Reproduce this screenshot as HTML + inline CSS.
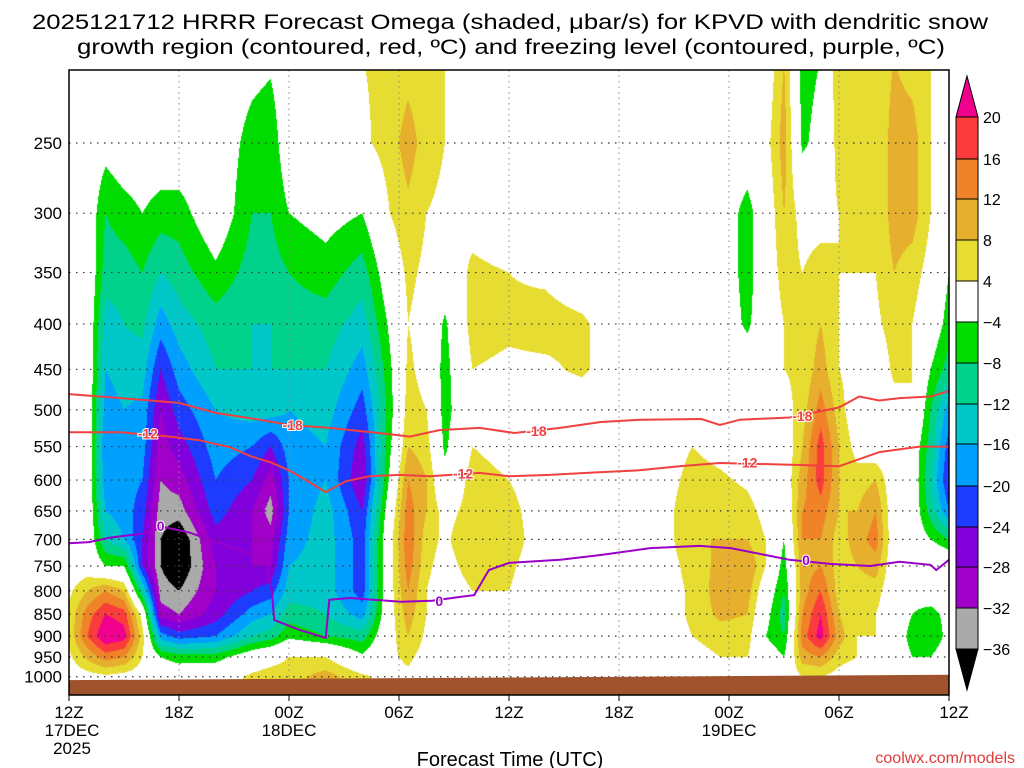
<!DOCTYPE html>
<html><head><meta charset="utf-8"><style>
html,body{margin:0;padding:0;background:#fff;}
#wrap{position:relative;width:1024px;height:768px;overflow:hidden;font-family:"Liberation Sans",sans-serif;}
#field{position:absolute;left:69px;top:70px;}
#ov{position:absolute;left:0;top:0;}
</style></head><body>
<div id="wrap">
<canvas id="field" width="880" height="625"></canvas>
<svg id="ov" width="1024" height="768" xmlns="http://www.w3.org/2000/svg">
<text x="510" y="29" font-size="21" text-anchor="middle" textLength="956" lengthAdjust="spacingAndGlyphs">2025121712 HRRR Forecast Omega (shaded, μbar/s) for KPVD with dendritic snow</text>
<text x="511" y="54" font-size="21" text-anchor="middle" textLength="868" lengthAdjust="spacingAndGlyphs">growth region (contoured, red, ºC) and freezing level (contoured, purple, ºC)</text>
<g id="grid"></g>
<g id="ground"></g>
<g id="lines"></g>
<rect x="69" y="70" width="880" height="625" fill="none" stroke="#000" stroke-width="1.5"/>
<g id="yax"></g>
<g id="xax"></g>
<text x="510" y="766" font-size="20" text-anchor="middle">Forecast Time (UTC)</text>
<text x="1015" y="763" font-size="16" fill="#e03a3a" text-anchor="end">coolwx.com/models</text>
<g id="cbar"></g>
</svg>
</div>
<script>
const levels=[200,250,300,350,400,450,500,550,600,650,700,750,800,850,900,950,1000];
const times=[0,1,2,3,4,5,6,8,10,11,12,14,16,17.5,18.5,19.5,20.5,22,24,26,28,30,32,34,35.5,37,38,39,40,41,42,43,44,45,46,47,48];
const omegaByTime=[
[0,0,0,0,0,0,0,0,0,0,0,0,3,5,5,3,1],
[0,0,0,1,1,1,1,1,1,1,1,1,8,14,16,9,2],
[0,-2,-8,-10,-14,-16,-18,-20,-19,-16,-12,-4,12,20,24,14,3],
[0,0,-6,-10,-12,-14,-16,-17,-18,-18,-16,-4,8,18,22,12,2],
[2,0,-4,-8,-11,-14,-17,-18,-20,-22,-24,-24,-12,2,6,4,1],
[3,0,-6,-12,-18,-24,-28,-30,-32,-34,-36,-36,-34,-30,-18,-4,0],
[2,0,-6,-10,-14,-18,-22,-26,-30,-34,-40,-40,-36,-32,-22,-6,0],
[0,0,0,-5,-10,-12,-16,-18,-20,-22,-26,-28,-28,-26,-20,-6,1],
[-2,-6,-8,-10,-12,-12,-14,-20,-24,-28,-28,-28,-24,-18,-12,0,5],
[-3,-7,-8,-10,-12,-12,-14,-24,-30,-34,-30,-28,-22,-16,-10,2,6],
[0,0,-4,-8,-10,-12,-16,-18,-20,-20,-18,-16,-14,-10,-5,4,6],
[0,0,-2,-6,-10,-12,-14,-16,-16,-14,-14,-14,-14,-12,-8,4,10],
[4,3,-4,-10,-14,-18,-22,-26,-28,-24,-22,-22,-22,-18,-10,-3,5],
[5,6,4,0,-3,-5,-6,-5,-3,0,2,2,2,2,2,3,2],
[6,10,7,5,4,5,6,8,12,14,15,14,12,10,8,5,3],
[5,6,4,3,2,2,4,6,8,8,6,5,4,4,3,2,1],
[4,4,3,0,-5,-6,-6,-5,-2,2,3,2,1,0,0,0,0],
[4,0,2,5,6,4,2,4,6,6,8,6,4,2,0,0,0],
[0,0,0,4,5,3,0,2,4,6,7,5,4,3,0,0,0],
[0,0,0,3,6,3,0,0,0,0,0,0,0,0,0,0,0],
[0,0,0,0,5,5,0,0,0,0,0,0,0,0,0,0,0],
[0,0,0,0,0,0,0,0,0,0,0,0,0,0,0,0,0],
[0,0,0,0,0,0,0,0,0,0,0,0,0,0,0,0,0],
[0,0,0,0,0,0,0,4,6,8,8,6,5,5,4,2,0],
[0,0,0,0,0,0,0,2,5,7,8,9,10,9,6,4,0],
[0,0,-6,-6,-5,0,0,0,3,6,8,12,10,8,6,4,0],
[0,2,0,0,0,0,0,0,0,2,4,4,0,-2,-4,0,0],
[8,10,8,6,4,4,2,0,0,-2,-4,-6,-8,-10,-8,-4,0],
[-6,-5,2,4,5,5,6,8,10,12,12,10,10,12,14,10,4],
[-4,-2,2,6,8,10,14,18,18,14,12,12,16,20,22,12,4],
[8,6,4,4,4,4,6,8,8,8,6,6,6,8,10,6,2],
[8,5,4,4,2,2,0,2,6,8,10,8,6,4,4,4,0],
[5,4,4,4,3,0,0,0,8,12,14,10,6,4,4,3,0],
[8,10,10,8,6,5,2,0,0,0,0,0,0,0,0,0,0],
[6,10,10,6,4,4,4,0,0,0,0,0,-2,-4,-6,-4,0],
[4,4,4,2,0,-4,-8,-10,-12,-10,-4,4,0,-6,-8,-4,0],
[0,0,0,-4,-6,-10,-18,-22,-24,-20,-8,2,0,-2,-2,0,0]
];
const isoM18=[[0,480],[2.8,485],[6,491],[8,504],[10.4,513],[12,520],[14.2,524],[16.9,531],[18.6,536],[20.2,527],[22.4,524],[24.3,531],[26.8,524],[29,516],[31.2,513],[34.5,512],[35.5,520],[36.6,513],[39.3,510],[42,497],[43.1,483],[44.2,488],[45.3,485],[47,483],[48,476]];
const isoM12=[[0,530],[2.8,530],[5.5,536],[7.1,541],[8.8,551],[9.9,564],[11,573],[12,585],[13.1,603],[14,619],[15.1,602],[16.4,594],[18,592],[19.7,594],[22.4,589],[24,594],[26.2,592],[28.9,588],[31.1,585],[33.3,579],[35.5,574],[39.9,577],[42,579],[44.2,558],[46.4,550],[48,550]];
const isoZero=[[0,707],[1.1,705],[2.2,697],[3.9,690],[5.2,678],[6.6,688],[7.7,701],[9.3,720],[10.7,738],[11,778],[11.2,863],[12.6,886],[14,904],[14.2,819],[15.3,815],[18.1,823],[19.8,821],[21.3,813],[22.1,809],[22.9,758],[24,744],[26.8,738],[29,729],[31.7,716],[34.4,712],[36.1,716],[39.3,738],[41.5,746],[43.7,750],[45.3,742],[47,748],[47.3,758],[48,738]];
const labM18=[[12.2,520],[25.5,528],[40,508]];
const labM12=[[4.3,532],[21.5,590],[37,573]];
const labZero=[[5,676],[20.2,821],[40.2,738]];
const ticksP=[250,300,350,400,450,500,550,600,650,700,750,800,850,900,950,1000];
const ticksH=[0,6,12,18,24,30,36,42,48];
const tickLabH=["12Z","18Z","00Z","06Z","12Z","18Z","00Z","06Z","12Z"];
const dateLabs=[[0,"17DEC"],[12,"18DEC"],[36,"19DEC"]];
const cbEdges=[20,16,12,8,4,-4,-8,-12,-16,-20,-24,-28,-32,-36];
const surfaceP=[[0,1009],[48,995]];

const X0=69,X1=949,Y0=70,Y1=695;
function xOf(h){return X0+h/48*(X1-X0);}
function yOf(p){return 143+385*Math.log(p/250);}
function colorOf(v){
 if(v>=20)return[240,0,140];if(v>=16)return[250,60,60];if(v>=12)return[240,130,40];
 if(v>=8)return[230,175,45];if(v>=4)return[230,220,50];if(v>-4)return[255,255,255];
 if(v>-8)return[0,220,0];if(v>-12)return[0,210,140];if(v>-16)return[0,200,200];
 if(v>-20)return[0,160,255];if(v>-24)return[30,60,255];if(v>-28)return[130,0,220];
 if(v>-32)return[160,0,200];if(v>-36)return[170,170,170];return[0,0,0];}
const cbColors=["#fa3c3c","#f08228","#e6af2d","#e6dc32","#ffffff","#00dc00","#00d28c","#00c8c8","#00a0ff","#1e3cff","#8200dc","#a000c8","#aaaaaa"];

(function(){
 const cv=document.getElementById('field'),ctx=cv.getContext('2d');
 const W=cv.width,H=cv.height,img=ctx.createImageData(W,H);
 const yL=levels.map(yOf),xT=times.map(xOf);
 for(let py=0;py<H;py++){
  const y=Y0+py+0.5;let i=0;while(i<yL.length-2&&y>yL[i+1])i++;
  let fy=(y-yL[i])/(yL[i+1]-yL[i]);fy=Math.max(0,Math.min(1,fy));
  for(let px=0;px<W;px++){
   const x=X0+px+0.5;let j=0;while(j<xT.length-2&&x>xT[j+1])j++;
   let fx=(x-xT[j])/(xT[j+1]-xT[j]);fx=Math.max(0,Math.min(1,fx));
   const a=omegaByTime[j][i],b=omegaByTime[j+1][i],c=omegaByTime[j][i+1],d=omegaByTime[j+1][i+1];
   const v=(a*(1-fx)+b*fx)*(1-fy)+(c*(1-fx)+d*fx)*fy;
   const col=colorOf(v),k=(py*W+px)*4;
   img.data[k]=col[0];img.data[k+1]=col[1];img.data[k+2]=col[2];img.data[k+3]=255;}}
 ctx.putImageData(img,0,0);
})();

const NS="http://www.w3.org/2000/svg";
function mk(tag,attrs,parent){const e=document.createElementNS(NS,tag);for(const k in attrs)e.setAttribute(k,attrs[k]);parent.appendChild(e);return e;}
const grid=document.getElementById('grid');
ticksP.forEach(p=>{const l=mk('line',{x1:X0,x2:X1,y1:yOf(p),y2:yOf(p),stroke:'#333','stroke-width':1.2,'stroke-dasharray':'1.5,5.5'},grid);

});
ticksH.forEach(h=>{const l=mk('line',{x1:xOf(h),x2:xOf(h),y1:Y0,y2:Y1,stroke:'#888','stroke-width':1,'stroke-dasharray':'1.5,4'},grid);

});
const gr=document.getElementById('ground');
const gp=mk('polygon',{points:`${xOf(surfaceP[0][0])},${yOf(surfaceP[0][1])} ${xOf(surfaceP[1][0])},${yOf(surfaceP[1][1])} ${X1},${Y1} ${X0},${Y1}`,fill:'#a0522d'},gr);


const lg=document.getElementById('lines');
function drawLine(pts,color,name){const p=mk('polyline',{points:pts.map(q=>xOf(q[0]).toFixed(1)+','+yOf(q[1]).toFixed(1)).join(' '),fill:'none',stroke:color,'stroke-width':2},lg);

}
function drawLabels(arr,txt,color,name){arr.forEach(q=>{const x=xOf(q[0]),y=yOf(q[1]);
 const t=mk('text',{x:x,y:y+5,'font-size':14,'font-weight':'bold',fill:color,'text-anchor':'middle',stroke:'#fff','stroke-width':2,'paint-order':'stroke'},lg);t.textContent=txt;
 
 });}
drawLine(isoM18,'#f04040','isotherm-minus18');
drawLine(isoM12,'#f04040','isotherm-minus12');
drawLine(isoZero,'#9a00c8','freezing-level-line');
drawLabels(labM18,'-18','#f04040','isotherm-label-minus18');
drawLabels(labM12,'-12','#f04040','isotherm-label-minus12');
drawLabels(labZero,'0','#9a00c8','freezing-level-label');
const ya=document.getElementById('yax');
ticksP.forEach(p=>{const t=mk('text',{x:62,y:yOf(p)+6,'font-size':17,'text-anchor':'end'},ya);t.textContent=String(p);

});
const xa=document.getElementById('xax');
ticksH.forEach((h,i)=>{const tk=mk('line',{x1:xOf(h),x2:xOf(h),y1:Y1,y2:Y1+6,stroke:'#000'},xa);


const t=mk('text',{x:xOf(h)+(i==8?5:0),y:718,'font-size':17,'text-anchor':'middle'},xa);t.textContent=tickLabH[i];

});
dateLabs.forEach(d=>{const t=mk('text',{x:xOf(d[0])+(d[0]==0?3:0),y:736,'font-size':17,'text-anchor':'middle'},xa);t.textContent=d[1];

});
const yr=mk('text',{x:72,y:754,'font-size':17,'text-anchor':'middle'},xa);yr.textContent='2025';


const cb=document.getElementById('cbar');
const cbY=[117,159,199,240,281,322,363,404,444,486,527,567,608,649];
const up=mk('polygon',{points:`956,117 978,117 967,76`,fill:'#f0008c',stroke:'#000'},cb);


const dn=mk('polygon',{points:`956,649 978,649 967,690`,fill:'#000',stroke:'#000'},cb);


cbColors.forEach((c,i)=>{const r=mk('rect',{x:956,y:cbY[i],width:22,height:cbY[i+1]-cbY[i],fill:c,stroke:'#000','stroke-width':1},cb);

});
cbEdges.forEach((v,i)=>{const t=mk('text',{x:983,y:cbY[i]+6,'font-size':16},cb);t.textContent=v<0?'−'+(-v):String(v);

});
</script>
</body></html>
